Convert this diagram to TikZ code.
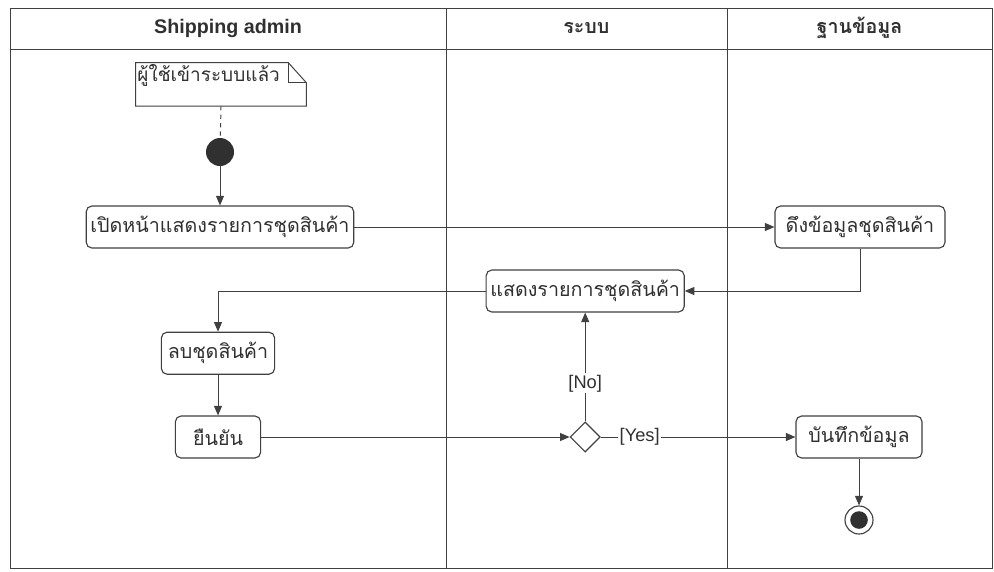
\documentclass[tikz,border=0pt]{standalone}
\usepackage{fontspec}
\setmainfont{Liberation Sans}
\newfontfamily\thaifont[Script=Thai]{Loma}
\usepackage{tikz}
\usetikzlibrary{arrows.meta, positioning, shapes.geometric}
\definecolor{linegray}{HTML}{404040}
\definecolor{inkgray}{HTML}{303030}
\tikzset{
  lane/.style={draw=linegray, line width=0.7pt},
  lanehead/.style={text=inkgray, font=\bfseries\fontsize{14}{16}\selectfont},
  thaihead/.style={text=inkgray, font=\thaifont\bfseries\fontsize{14}{16}\selectfont},
  actbox/.style={rectangle, rounded corners=4pt, draw=linegray, line width=0.8pt, fill=white,
    minimum height=1.05cm, inner sep=3pt, text=inkgray, font=\thaifont\fontsize{14}{16}\selectfont},
  flowarr/.style={draw=linegray, line width=0.7pt, -{Triangle[length=2.4mm, width=2mm]}},
  guard/.style={fill=white, inner sep=1pt, text=inkgray, font=\fontsize{13}{15}\selectfont},
}

\begin{document}
\begin{tikzpicture}
\useasboundingbox (0,0) rectangle (24.85,-14.275);
% swimlanes
\draw[lane] (0.25,-0.2) rectangle (24.8,-14.2);
\draw[lane] (0.25,-1.225) -- (24.8,-1.225);
\draw[lane] (11.15,-0.2) -- (11.15,-14.2);
\draw[lane] (18.175,-0.2) -- (18.175,-14.2);
\node[lanehead] (hadmin) at (5.7,-0.7) {Shipping admin};
\node[thaihead] (hsys) at (14.66,-0.7) {ระบบ};
\node[thaihead] (hdb) at (21.49,-0.7) {ฐานข้อมูล};

% note
\node[minimum width=4.25cm, minimum height=1.075cm] (note) at (5.525,-2.11) {};
\draw[lane, fill=white] (note.south west) -- (note.north west) -- ([xshift=-4.5mm]note.north east)
  -- ([yshift=-5mm]note.north east) -- (note.south east) -- cycle;
\draw[lane] ([xshift=-4.5mm]note.north east) |- ([yshift=-5mm]note.north east);
\node[anchor=north west, inner sep=1pt, text=inkgray, font=\thaifont\fontsize{13.5}{15}\selectfont]
  (notetext) at (note.north west) {ผู้ใช้เข้าระบบแล้ว};

% nodes
\node[circle, fill=inkgray, minimum size=0.7cm, inner sep=0pt] (start) at (5.5,-3.8) {};
\node[actbox, minimum width=6.6cm] (openlist) at (5.5,-5.675) {เปิดหน้าแสดงรายการชุดสินค้า};
\node[actbox, minimum width=4.25cm] (fetch) at (21.5,-5.675) {ดึงข้อมูลชุดสินค้า};
\node[actbox, minimum width=4.9cm] (showlist) at (14.63,-7.275) {แสดงรายการชุดสินค้า};
\node[actbox, minimum width=2.83cm] (remove) at (5.45,-8.83) {ลบชุดสินค้า};
\node[actbox, minimum width=2.13cm] (confirm) at (5.45,-10.925) {ยืนยัน};
\node[diamond, draw=linegray, line width=0.8pt, fill=white, minimum width=0.75cm,
  minimum height=0.75cm, inner sep=0pt] (choice) at (14.63,-10.925) {};
\node[actbox, minimum width=3.15cm] (save) at (21.475,-10.925) {บันทึกข้อมูล};
\node[circle, draw=linegray, line width=0.8pt, minimum size=0.7cm, inner sep=0pt] (stop) at (21.475,-13.0) {};
\fill[inkgray] (stop.center) circle (0.22);

% flows
\draw[lane, dashed] (note.south) -- (start);
\draw[flowarr] (start) -- (openlist);
\draw[flowarr] (openlist) -- (fetch);
\draw[flowarr] (fetch.south) |- (showlist.east);
\draw[flowarr] (showlist.west) -| (remove.north);
\draw[flowarr] (remove) -- (confirm);
\draw[flowarr] (confirm) -- (choice);
\draw[flowarr] (choice) -- node[guard, pos=0.35] {[No]} (showlist);
\draw[flowarr] (choice) -- node[guard, pos=0.2] {[Yes]} (save);
\draw[flowarr] (save) -- (stop);
\end{tikzpicture}
\end{document}
